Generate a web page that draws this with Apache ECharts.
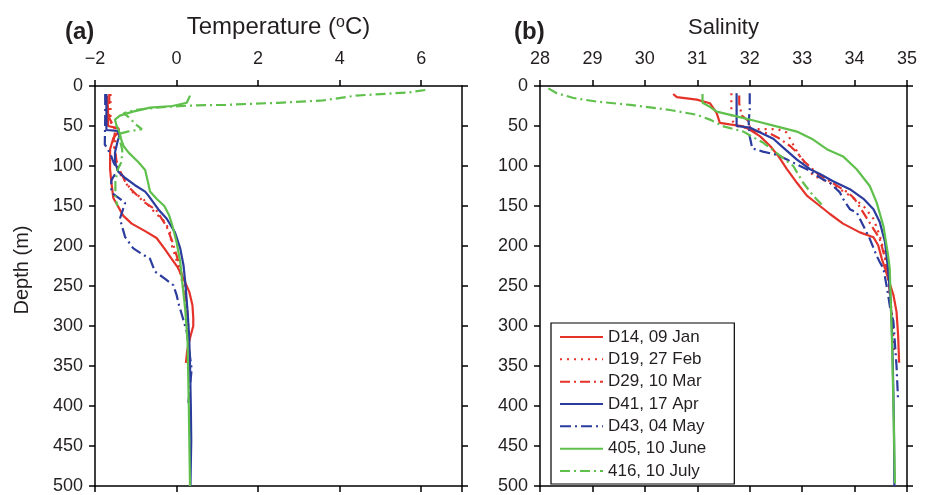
<!DOCTYPE html>
<html>
<head>
<meta charset="utf-8">
<script src="https://cdn.jsdelivr.net/npm/echarts@6/dist/echarts.min.js"></script>
<style>
  html, body { margin: 0; padding: 0; background: #fff; }
  #chart { width: 933px; height: 495px; }
</style>
</head>
<body>
<div id="chart"></div>
<script>
// profile names (legend order)
var names = ["D14, 09 Jan", "D19, 27 Feb", "D29, 10 Mar", "D41, 17 Apr", "D43, 04 May", "405, 10 June", "416, 10 July"];

// temperature profiles: [temperature degC, depth m]
var d14Temp = [[-1.70,12],[-1.68,30],[-1.68,50],[-1.42,53],[-1.42,57],[-1.55,65],[-1.63,79],[-1.63,104],[-1.60,120],[-1.55,140],[-1.44,150],[-1.31,162],[-1.10,172],[-0.75,182],[-0.49,190],[-0.30,203],[-0.12,216],[0.02,226],[0.17,241],[0.31,257],[0.39,274],[0.41,290],[0.41,300],[0.33,315],[0.26,331],[0.23,346]];
var d19Temp = [[-1.62,10],[-1.62,45],[-1.45,55],[-1.52,75],[-1.45,105],[-1.22,122],[-1.07,133],[-0.82,141],[-0.61,154],[-0.45,162],[-0.28,170],[-0.16,183],[-0.12,199],[-0.01,216],[0.12,240],[0.22,270],[0.27,300],[0.30,330]];
var d29Temp = [[-1.65,10],[-1.65,40],[-1.50,55],[-1.55,70],[-1.45,100],[-1.20,125],[-0.80,145],[-0.50,155],[-0.25,175],[-0.10,195],[0.05,220],[0.20,250],[0.28,290],[0.30,320]];
var d41Temp = [[-1.72,10],[-1.72,30],[-1.72,55],[-1.45,56],[-1.40,62],[-1.45,70],[-1.51,83],[-1.51,95],[-1.43,107],[-1.26,115],[-1.02,124],[-0.77,132],[-0.69,137],[-0.45,154],[-0.24,166],[-0.04,183],[0.09,203],[0.17,224],[0.22,249],[0.27,282],[0.31,315],[0.33,348],[0.35,400],[0.36,443],[0.34,500]];
var d43Temp = [[-1.75,10],[-1.75,40],[-1.76,73],[-1.62,85],[-1.55,95],[-1.45,105],[-1.60,118],[-1.60,133],[-1.26,146],[-1.39,166],[-1.26,189],[-1.06,203],[-0.85,210],[-0.65,216],[-0.53,232],[-0.28,241],[-0.08,249],[0.00,261],[0.06,274],[0.12,284],[0.25,307],[0.37,354],[0.33,375],[0.29,396]];
var s405Temp = [[0.33,12],[0.25,21],[-0.10,25],[-0.65,27],[-1.07,32],[-1.39,37],[-1.51,42],[-1.47,50],[-1.40,58],[-1.35,68],[-1.30,75],[-1.18,83],[-0.94,95],[-0.77,105],[-0.72,116],[-0.65,132],[-0.49,141],[-0.30,150],[-0.18,162],[-0.10,175],[0.00,195],[0.09,220],[0.15,250],[0.21,278],[0.27,319],[0.30,400],[0.33,500]];
var s416Temp = [[6.10,5],[5.70,8],[4.40,12],[3.60,18],[2.50,21],[1.20,23.5],[0.30,24.5],[-0.50,27],[-1.00,30],[-1.30,34],[-1.15,40],[-1.00,48],[-0.85,54],[-1.20,57],[-1.42,60],[-1.38,70],[-1.33,80],[-1.35,95],[-1.45,105],[-1.50,120],[-1.50,140],[-1.45,150]];

// salinity profiles: [salinity, depth m]
var d14Sal = [[30.54,10],[30.61,14],[30.99,17],[31.24,21.5],[31.37,34],[31.43,46],[31.62,48],[31.88,50.5],[32.01,55],[32.20,63],[32.39,75],[32.55,88],[32.71,104],[32.90,121],[33.09,137],[33.34,150],[33.53,160],[33.78,172],[34.10,183],[34.36,189],[34.45,199],[34.52,216],[34.58,228],[34.74,261],[34.80,282],[34.83,311],[34.85,346]];
var d19Sal = [[31.65,9],[31.65,42],[31.75,50],[32.04,54],[32.26,54],[32.54,54],[32.70,58],[32.77,66],[32.86,77],[32.96,88],[33.09,100],[33.21,112],[33.53,121],[33.91,137],[34.17,150],[34.36,166],[34.48,187],[34.58,212],[34.66,250],[34.72,290],[34.75,330]];
var d29Sal = [[31.80,12],[31.80,22],[31.85,37],[32.00,45],[32.00,55],[32.40,60],[32.55,65],[32.77,75],[32.90,83],[33.05,95],[33.30,110],[33.60,122],[33.87,133],[34.00,141],[34.26,168],[34.48,191],[34.58,215],[34.66,250],[34.72,300]];
var d41Sal = [[31.75,9],[31.75,50],[32.00,52],[32.20,58],[32.45,66],[32.64,77],[32.90,92],[33.15,104],[33.34,110],[33.59,119],[33.91,129],[34.17,141],[34.36,154],[34.48,170],[34.58,195],[34.63,224],[34.68,260],[34.71,300],[34.73,350],[34.75,420],[34.76,500]];
var d43Sal = [[32.00,9],[32.00,30],[31.98,45],[32.00,63],[32.05,78],[32.25,82],[32.52,86],[32.71,92],[32.96,100],[33.09,104],[33.40,117],[33.53,121],[33.72,133],[33.78,141],[33.91,154],[34.04,158],[34.10,166],[34.23,183],[34.29,191],[34.42,212],[34.48,220],[34.55,228],[34.62,253],[34.68,278],[34.74,294],[34.80,350],[34.83,393]];
var s405Sal = [[31.10,10],[31.10,21],[31.24,26],[31.37,32],[31.75,38],[32.13,44],[32.51,50.5],[32.90,57],[33.21,67],[33.47,79],[33.78,88],[34.04,104],[34.29,125],[34.42,145.5],[34.55,175],[34.64,212],[34.67,228],[34.71,311],[34.74,394],[34.77,497]];
var s416Sal = [[28.16,3],[28.32,9],[28.64,15],[29.08,19.5],[29.72,23.6],[30.48,30],[30.99,36],[31.24,42],[31.50,50.5],[31.88,57],[32.04,63],[32.26,71],[32.51,83.5],[32.83,100],[33.02,121],[33.21,137],[33.40,150]];

var red = "#e5332a", blue = "#2b3c9e", green = "#5fc04c";
var styles = [
  { color: red, type: "solid" },
  { color: red, type: [2, 5] },
  { color: red, type: [10, 4, 2, 4] },
  { color: blue, type: "solid" },
  { color: blue, type: [11, 4, 2, 4] },
  { color: green, type: "solid" },
  { color: green, type: [10, 4, 2, 4] }
];
var tempData = [d14Temp, d19Temp, d29Temp, d41Temp, d43Temp, s405Temp, s416Temp];
var salData = [d14Sal, d19Sal, d29Sal, d41Sal, d43Sal, s405Sal, s416Sal];

var font = "Liberation Sans";
var ink = "#231f20";
var lineOpt = { onZero: false, lineStyle: { color: "#000", width: 1.5 } };
var tickOpt = { show: true, length: 6, lineStyle: { color: "#000", width: 1.5 } };
function fmt(v) { return String(v).replace("-", "\u2212"); }

function xAxes(gridIndex, min, max, interval, name, size) {
  return [
    {
      type: "value", gridIndex: gridIndex, position: "top", min: min, max: max, interval: interval,
      axisLine: lineOpt, axisTick: tickOpt, splitLine: { show: false },
      axisLabel: { color: ink, fontFamily: font, fontSize: 18, margin: 18, showMaxLabel: max === 35, formatter: fmt },
      name: name, nameLocation: "middle", nameGap: 47,
      nameTextStyle: {
        color: ink, fontFamily: font, fontSize: size,
        rich: {
          t: { color: ink, fontFamily: font, fontSize: size },
          s: { color: ink, fontFamily: font, fontSize: 16, verticalAlign: "top" }
        }
      }
    },
    {
      type: "value", gridIndex: gridIndex, position: "bottom", min: min, max: max, interval: interval,
      axisLine: lineOpt, axisTick: tickOpt, axisLabel: { show: false }, splitLine: { show: false }
    }
  ];
}
function yAxes(gridIndex) {
  return [
    {
      type: "value", gridIndex: gridIndex, position: "left", inverse: true, min: 0, max: 500, interval: 50,
      axisLine: lineOpt, axisTick: tickOpt, splitLine: { show: false },
      axisLabel: { color: ink, fontFamily: font, fontSize: 18, margin: 12 }
    },
    {
      type: "value", gridIndex: gridIndex, position: "right", inverse: true, min: 0, max: 500, interval: 50,
      axisLine: lineOpt, axisTick: tickOpt, axisLabel: { show: false }, splitLine: { show: false }
    }
  ];
}

var series = [];
[tempData, salData].forEach(function (panel, p) {
  panel.forEach(function (data, i) {
    series.push({
      name: names[i],
      type: "line",
      xAxisIndex: p * 2,
      yAxisIndex: p * 2,
      data: data,
      symbol: "none",
      lineStyle: { color: styles[i].color, width: 2.2, type: styles[i].type },
      itemStyle: { color: styles[i].color }
    });
  });
});

var myChart = echarts.init(document.getElementById("chart"));
var option = {
  backgroundColor: "#fff",
  animation: false,
  title: [
    { text: "(a)", left: 60, top: 15, textStyle: { fontFamily: font, fontSize: 24, fontWeight: "bold", color: ink } },
    { text: "(b)", left: 509, top: 15, textStyle: { fontFamily: font, fontSize: 24, fontWeight: "bold", color: ink } }
  ],
  grid: [
    { left: 95, top: 86, width: 367, height: 403 },
    { left: 540, top: 86, width: 367, height: 403 }
  ],
  xAxis: xAxes(0, -2, 7, 2, "{t|Temperature (}{s|o}{t|C)}", 24).concat(xAxes(1, 28, 35, 1, "Salinity", 22)),
  yAxis: yAxes(0).concat(yAxes(1)),
  legend: {
    data: names,
    orient: "vertical",
    left: 551,
    top: 323,
    padding: [4, 28, 3, 8],
    itemWidth: 43,
    itemHeight: 20,
    itemGap: 2.33,
    backgroundColor: "#fff",
    borderColor: "#000",
    borderWidth: 1.2,
    itemStyle: { color: "rgba(0,0,0,0)", borderWidth: 0 },
    textStyle: { color: ink, fontFamily: font, fontSize: 17, lineHeight: 20 }
  },
  graphic: [
    {
      type: "text", x: 22, y: 270, rotation: Math.PI / 2,
      style: { text: "Depth (m)", align: "center", verticalAlign: "middle", font: "20px 'Liberation Sans'", fill: ink }
    }
  ],
  series: series
};
option && myChart.setOption(option);
</script>
</body>
</html>
